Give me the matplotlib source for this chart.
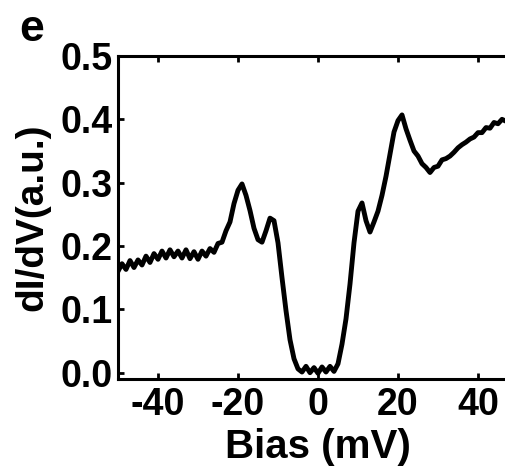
import matplotlib.pyplot as plt
import numpy as np

plt.rcParams['font.family'] = ['Liberation Sans', 'DejaVu Sans']
plt.rcParams['font.weight'] = 'bold'
plt.rcParams['axes.unicode_minus'] = False
fontSize = 27

# bias (mV), every 1 mV
bias = np.arange(-50, 51, 1)
didv = [0.160, 0.172, 0.163, 0.177, 0.166, 0.178, 0.170, 0.184, 0.174, 0.188,
        0.179, 0.192, 0.181, 0.194, 0.183, 0.192, 0.181, 0.194, 0.180, 0.191,
        0.179, 0.192, 0.184, 0.196, 0.190, 0.204, 0.206, 0.224, 0.238, 0.267,
        0.288, 0.298, 0.280, 0.256, 0.228, 0.210, 0.206, 0.224, 0.244, 0.240,
        0.205, 0.150, 0.098, 0.052, 0.022, 0.006, 0.001, 0.010, 0.000, 0.008,
        -0.001, 0.009, 0.001, 0.010, 0.002, 0.014, 0.045, 0.085, 0.140, 0.205,
        0.255, 0.268, 0.240, 0.222, 0.238, 0.255, 0.280, 0.310, 0.345, 0.380,
        0.398, 0.407, 0.385, 0.367, 0.350, 0.342, 0.330, 0.324, 0.316, 0.324,
        0.326, 0.336, 0.338, 0.342, 0.348, 0.355, 0.360, 0.364, 0.369, 0.372,
        0.379, 0.379, 0.387, 0.386, 0.395, 0.393, 0.400, 0.397, 0.405, 0.399,
        0.406]
xticks = [-40, -20, 0, 20, 40]
yticks = [0.0, 0.1, 0.2, 0.3, 0.4, 0.5]

fig = plt.figure(figsize=(5.05, 4.69), dpi=100)
# axes runs past the right edge of the picture, as in the original crop
ax = fig.add_axes([118 / 505, 90 / 469, 400 / 505, 323 / 469])
ax.plot(bias, didv, color='black', linewidth=3.5)

ax.set_xlim(-50, 50)
ax.set_ylim(-0.01, 0.5)
ax.set_xticks(xticks)
ax.set_yticks(yticks)
ax.set_yticklabels(['%.1f' % v for v in yticks])
ax.tick_params(direction='in', top=True, right=True, length=4, width=2,
               labelsize=fontSize)
ax.tick_params(axis='x', pad=6)
ax.tick_params(axis='y', pad=4)
for s in ax.spines.values():
    s.set_linewidth(2.2)

ax.set_xlabel('Bias (mV)', fontsize=29, fontweight='bold', labelpad=3)
ax.set_ylabel('dI/dV(a.u.)', fontsize=28, fontweight='bold', labelpad=7)
fig.text(19 / 505, 1 - 41 / 469, 'e', fontsize=32, fontweight='bold')

fig.savefig('out.png', dpi=100)
